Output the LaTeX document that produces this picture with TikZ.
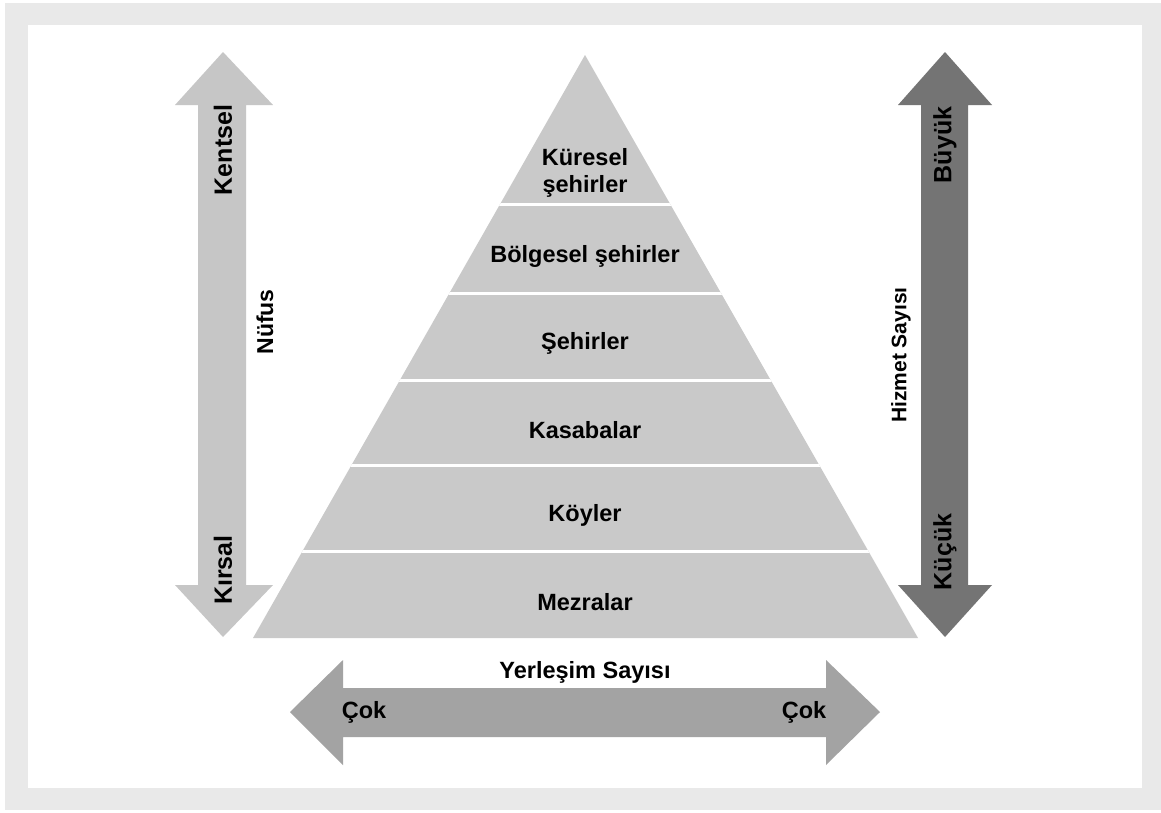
\documentclass[tikz,border=0pt]{standalone}
\usepackage{fontspec}
\setmainfont{Liberation Sans}
\usetikzlibrary{positioning}
\definecolor{framegray}{HTML}{E9E9E9}
\definecolor{pyrgray}{HTML}{C9C9C9}
\definecolor{lightarrow}{HTML}{C6C6C6}
\definecolor{midarrow}{HTML}{A3A3A3}
\definecolor{darkarrow}{HTML}{747474}

\begin{document}
\begin{tikzpicture}[
  x=1pt, y=-1pt,
  lbl/.style={font=\bfseries\fontsize{23.5}{27}\selectfont, align=center, inner sep=0pt},
  vlbl/.style={lbl, rotate=90},
  endlbl/.style={vlbl, font=\bfseries\fontsize{25}{28}\selectfont},
  sep/.style={white, line width=3pt}
  ]
  \useasboundingbox (0,0) rectangle (1161,812);
  \fill[framegray] (5,3) rectangle (1161,810);
  \fill[white] (28,25) rectangle (1142,788);

  % pyramid
  \coordinate (apex) at (585,55);
  \coordinate (bl) at (253,638);
  \coordinate (br) at (918,638);
  \fill[pyrgray] (apex) -- (br) -- (bl) -- cycle;
  \begin{scope}
    \clip (apex) -- (br) -- (bl) -- cycle;
    \foreach \y in {204,293,380,465,551}
      \draw[sep] (240,\y) -- (930,\y);
  \end{scope}

  \node[lbl] (kuresel) at (585,173) {Küresel\\şehirler};
  \node[lbl] (bolgesel) at (585,256) {Bölgesel şehirler};
  \node[lbl] (sehir) at (585,343) {Şehirler};
  \node[lbl] (kasaba) at (585,430) {Kasabalar};
  \node[lbl] (koy) at (585,515) {Köyler};
  \node[lbl] (mezra) at (585,602) {Mezralar};

  % population arrow
  \fill[lightarrow] (223,52) -- (273,105) -- (246,105) -- (246,585) -- (273,585)
    -- (223,637) -- (175,585) -- (198,585) -- (198,105) -- (175,105) -- cycle;
  \node[endlbl] (kentsel) at (223,150) {Kentsel};
  \node[endlbl] (kirsal) at (223,570) {Kırsal};
  \node[vlbl, font=\bfseries\fontsize{23}{26}\selectfont] (nufus) at (265,322) {Nüfus};

  % services arrow
  \fill[darkarrow] (945,52) -- (992,105) -- (968,105) -- (968,585) -- (992,585)
    -- (945,637) -- (898,585) -- (921,585) -- (921,105) -- (898,105) -- cycle;
  \node[endlbl] (buyuk) at (945,145) {Büyük};
  \node[endlbl] (kucuk) at (945,552) {Küçük};
  \node[vlbl, font=\bfseries\fontsize{21}{24}\selectfont] (hizmet) at (901,355) {Hizmet Sayısı};

  % settlements arrow
  \fill[midarrow] (290,712) -- (343,660) -- (343,688) -- (826,688) -- (826,660)
    -- (880,712) -- (826,765) -- (826,737) -- (343,737) -- (343,765) -- cycle;
  \node[lbl] (yerlesim) at (585,672) {Yerleşim Sayısı};
  \node[lbl] (cokl) at (364,712) {Çok};
  \node[lbl] (cokr) at (804,712) {Çok};
\end{tikzpicture}
\end{document}
